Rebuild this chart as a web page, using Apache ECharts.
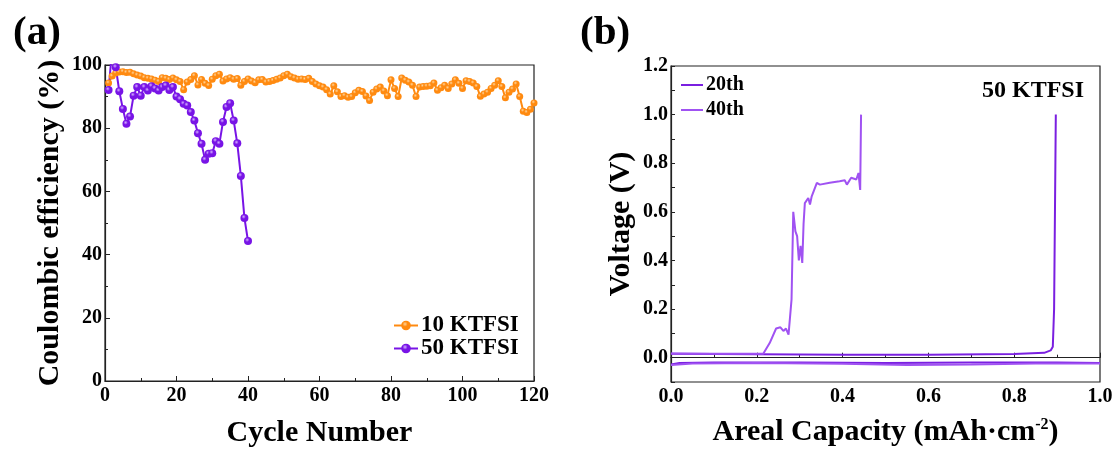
<!DOCTYPE html>
<html>
<head>
<meta charset="utf-8">
<script src="https://cdn.jsdelivr.net/npm/echarts@6/dist/echarts.min.js"></script>
<style>
  html, body { margin: 0; padding: 0; background: #fff; }
  #chart { width: 1118px; height: 453px; }
</style>
</head>
<body>
<div id="chart"></div>
<script>
// (a) Coulombic efficiency, 10 KTFSI, cycles 1..120
var ce10 = [
  94.3, 96.5, 97.5, 97.8, 97.9, 97.6, 97.7, 97.2, 96.8, 96.5,
  96.0, 95.8, 95.6, 95.2, 94.8, 96.0, 95.8, 95.4, 95.9, 95.3,
  94.8, 92.2, 94.6, 95.4, 96.6, 93.7, 95.4, 94.2, 93.5, 95.5,
  96.6, 97.1, 94.9, 95.6, 96.0, 95.5, 95.7, 93.6, 94.8, 95.6,
  94.9, 94.4, 95.3, 95.4, 94.6, 94.8, 95.1, 95.5, 95.9, 96.6,
  97.1, 96.3, 95.9, 95.5, 95.6, 95.4, 95.8, 94.8, 94.0, 93.4,
  93.0, 92.2, 90.8, 93.4, 91.5, 90.0, 90.3, 89.8, 90.0, 91.2,
  92.0, 91.6, 90.2, 88.8, 91.4, 92.4, 93.0, 91.8, 90.3, 95.3,
  92.6, 90.0, 95.9, 95.2, 94.6, 93.6, 90.0, 93.0, 93.2, 93.3,
  93.4, 94.3, 92.0, 92.8, 93.6, 92.6, 94.0, 95.3, 94.2, 92.6,
  95.0, 94.8, 94.3, 93.2, 90.1, 90.8, 91.4, 92.6, 93.6, 95.0,
  93.2, 89.6, 91.4, 92.4, 94.0, 90.0, 85.4, 85.0, 86.0, 88.0
];
// (a) Coulombic efficiency, 50 KTFSI, cycles 1..40
var ce50 = [
  92.1, 105.0, 99.3, 91.7, 86.1, 81.4, 83.7, 90.3, 93.0, 90.3,
  93.0, 91.9, 93.3, 92.6, 91.9, 93.0, 93.5, 92.1, 93.0, 90.0,
  89.2, 87.7, 87.2, 85.1, 82.4, 78.4, 75.1, 70.0, 71.9, 72.1,
  75.9, 75.1, 82.0, 86.7, 87.9, 82.4, 75.2, 64.9, 51.6, 44.3
];

// (b) voltage profiles: capacity (mAh cm-2) and voltage (V)
var cap20Plate = [0, 0.02, 0.1, 0.3, 0.5, 0.7, 0.9, 1.0];
var v20Plate   = [-0.028, -0.022, -0.020, -0.020, -0.022, -0.020, -0.020, -0.022];
var cap20Strip = [0, 0.2, 0.4, 0.6, 0.8, 0.87, 0.885, 0.89, 0.893, 0.895, 0.897];
var v20Strip   = [0.016, 0.014, 0.012, 0.012, 0.015, 0.020, 0.030, 0.045, 0.2, 0.6, 1.0];
var cap40Plate = [0, 0.05, 0.2, 0.4, 0.55, 0.7, 0.85, 1.0];
var v40Plate   = [-0.030, -0.024, -0.022, -0.025, -0.030, -0.028, -0.024, -0.024];
var cap40Strip = [0, 0.1, 0.215, 0.23, 0.245, 0.255, 0.262, 0.268, 0.274, 0.278,
                  0.281, 0.285, 0.29, 0.294, 0.298, 0.302, 0.306, 0.309, 0.312, 0.32,
                  0.324, 0.328, 0.34, 0.347, 0.37, 0.393, 0.405, 0.41, 0.42, 0.432,
                  0.437, 0.441, 0.443];
var v40Strip   = [0.017, 0.016, 0.016, 0.06, 0.12, 0.125, 0.11, 0.12, 0.095, 0.10,
                  0.24, 0.60, 0.52, 0.50, 0.40, 0.46, 0.39, 0.55, 0.636, 0.657,
                  0.63, 0.664, 0.719, 0.712, 0.72, 0.726, 0.73, 0.712, 0.74, 0.733,
                  0.76, 0.69, 1.0];

function zip(xs, ys) {
  return xs.map(function (x, i) { return [x, ys[i]]; });
}
function byCycle(vals) {
  return vals.map(function (v, i) { return [i + 1, v]; });
}

var FONT = "'Times New Roman', 'Liberation Serif', serif";
var orange = '#FF8A10';
var purple = '#7814E6';
var purple20 = '#7A1FE0';
var purple40 = '#A052F2';

function ball(c, light) {
  return {
    type: 'radial', x: 0.4, y: 0.35, r: 0.6,
    colorStops: [{ offset: 0, color: light }, { offset: 0.45, color: c }, { offset: 1, color: c }]
  };
}

var axisLabel = { color: '#000', fontFamily: FONT, fontWeight: 'bold', fontSize: 20 };
var nameText = { color: '#000', fontFamily: FONT, fontWeight: 'bold', fontSize: 30 };
var axLine = { show: true, lineStyle: { color: '#222', width: 1.2 } };
var tick = { show: true, inside: true, length: 5, lineStyle: { color: '#222' } };
var minor = { show: true, splitNumber: 2, length: 3, lineStyle: { color: '#222' } };

var myChart = echarts.init(document.getElementById('chart'));

myChart.setOption({
  animation: false,
  title: [
    { text: '(a)', left: 8, top: 8, textStyle: { fontFamily: FONT, fontWeight: 'bold', fontSize: 41, color: '#000' } },
    { text: '(b)', left: 575, top: 8, textStyle: { fontFamily: FONT, fontWeight: 'bold', fontSize: 41, color: '#000' } },
    { text: '50 KTFSI', left: 977, top: 74, textStyle: { fontFamily: FONT, fontWeight: 'bold', fontSize: 24, color: '#000' } }
  ],
  grid: [
    { left: 105, right: 584, top: 65, bottom: 70, show: true, borderColor: '#222', borderWidth: 1.2 },
    { left: 671, right: 18, top: 66, bottom: 71, show: true, borderColor: '#222', borderWidth: 1.2 }
  ],
  legend: [
    {
      orient: 'vertical', left: 388, top: 309, itemGap: 0,
      itemWidth: 24, itemHeight: 12,
      data: ['10 KTFSI', '50 KTFSI'],
      textStyle: { fontFamily: FONT, fontWeight: 'bold', fontSize: 23, color: '#000', padding: [0, 0, 0, -2] }
    },
    {
      orient: 'vertical', left: 676, top: 70, itemGap: 5,
      itemWidth: 22, itemHeight: 2,
      data: [{ name: '20th', icon: 'rect' }, { name: '40th', icon: 'rect' }],
      textStyle: { fontFamily: FONT, fontWeight: 'bold', fontSize: 20, color: '#000', padding: [0, 0, 0, -2] }
    }
  ],
  xAxis: [
    {
      gridIndex: 0, type: 'value', min: 0, max: 120, interval: 20,
      name: 'Cycle Number', nameLocation: 'middle', nameGap: 37, nameTextStyle: nameText,
      axisLine: axLine, axisTick: tick, minorTick: minor,
      axisLabel: Object.assign({ margin: 5 }, axisLabel),
      splitLine: { show: false }
    },
    {
      gridIndex: 1, type: 'value', min: 0, max: 1, interval: 0.2,
      name: 'Areal Capacity (mAh·cm{sup|-2})', nameLocation: 'middle', nameGap: 35,
      nameTextStyle: Object.assign({
        rich: { sup: { fontFamily: FONT, fontWeight: 'bold', fontSize: 16, color: '#000', verticalAlign: 'top', padding: [0, 0, 12, 0] } }
      }, nameText),
      axisLine: axLine, axisTick: tick, minorTick: minor,
      axisLabel: Object.assign({ margin: 5, formatter: function (v) { return v.toFixed(1); } }, axisLabel),
      splitLine: { show: false }
    }
  ],
  yAxis: [
    {
      gridIndex: 0, type: 'value', min: 0, max: 100, interval: 20,
      name: 'Coulombic efficiency (%)', nameLocation: 'middle', nameGap: 40, nameTextStyle: nameText,
      axisLine: axLine, axisTick: tick, minorTick: minor,
      axisLabel: Object.assign({ margin: 3 }, axisLabel),
      splitLine: { show: false }
    },
    {
      gridIndex: 1, type: 'value', min: -0.1, max: 1.2, interval: 0.1,
      name: 'Voltage (V)', nameLocation: 'middle', nameGap: 35, nameTextStyle: nameText,
      axisLine: axLine, axisTick: { show: true, inside: true, length: 4, lineStyle: { color: '#222' } },
      axisLabel: Object.assign({
        margin: 3,
        formatter: function (v) {
          var k = Math.round(v * 10);
          return (k >= 0 && k % 2 === 0) ? (k / 10).toFixed(1) : '';
        }
      }, axisLabel),
      splitLine: { show: false }
    }
  ],
  series: [
    {
      name: '10 KTFSI', type: 'line', xAxisIndex: 0, yAxisIndex: 0,
      data: byCycle(ce10),
      symbol: 'circle', symbolSize: 7,
      lineStyle: { color: orange, width: 2 },
      itemStyle: { color: ball(orange, '#FFD49A'), borderWidth: 0 }
    },
    {
      name: '50 KTFSI', type: 'line', xAxisIndex: 0, yAxisIndex: 0,
      data: byCycle(ce50),
      symbol: 'circle', symbolSize: 8,
      lineStyle: { color: purple, width: 2 },
      itemStyle: { color: ball(purple, '#D4B0FF'), borderWidth: 0 }
    },
    {
      name: '20th', type: 'line', xAxisIndex: 1, yAxisIndex: 1, symbol: 'none',
      data: zip(cap20Plate, v20Plate), color: purple20, lineStyle: { color: purple20, width: 2 }
    },
    {
      name: '20th', type: 'line', xAxisIndex: 1, yAxisIndex: 1, symbol: 'none',
      data: zip(cap20Strip, v20Strip), color: purple20, lineStyle: { color: purple20, width: 2 }
    },
    {
      name: '40th', type: 'line', xAxisIndex: 1, yAxisIndex: 1, symbol: 'none',
      data: zip(cap40Plate, v40Plate), color: purple40, lineStyle: { color: purple40, width: 2 }
    },
    {
      name: '40th', type: 'line', xAxisIndex: 1, yAxisIndex: 1, symbol: 'none',
      data: zip(cap40Strip, v40Strip), color: purple40, lineStyle: { color: purple40, width: 2 }
    }
  ]
});
</script>
</body>
</html>
